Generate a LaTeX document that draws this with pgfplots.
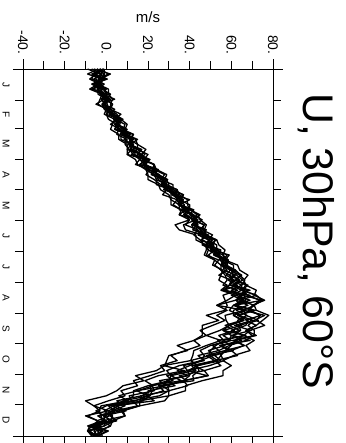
\documentclass[border=0pt]{standalone}
\usepackage{fontspec}
\setmainfont{Liberation Sans}
\usepackage{pgfplots}
\usepackage{pgfplotstable}
\pgfplotsset{compat=1.18}
\pgfplotstableread{
d a b c e f g h k l n o p q r
0 -2.5 -3 -4 -4.5 -4 -1 -9 -3 -1 -1.5 -7 -1 -6 -4
5 -6.5 1 -5 -1 -9 -1 -3 -5 -5 -7 -2 -6 2 -3
10 -1.5 -4 -8 -2.5 -2 -1 -3 -5 -1 0.5 -6 -7 -3 0
15 -3.5 -3 -3 -2 -7 -4 -4 -3 -5 -6.5 -2.5 -1 -4.5 -6
20 -2.5 -2 -6 -4.5 -3 1 -8 -4 0 -1 -7 -4 -1 -2.5
25 -2.5 2 -2 -1 -3 1 -2 -1 -2 0 0.5 -4 0.5 -1.5
30 -0.5 0 -3 1.5 -1 3 1 -2 2 -1 -2.5 0 -1 4
35 -0.5 3 -4 -1 -5 2 -2 -1 -1 0.5 -0.5 -2 3 -2
40 1.5 2 0 0.5 1 2 0 2 4 0.5 0 -1 1 2
45 1.5 7 -1 3 0 5 4 0 2 2.5 4 2 3 3.5
50 5.5 4 4 6.5 1 7 5 6 7 5 3.5 5 7 8
55 4.5 9 3 4 5 10 5 5 5 5.5 6 2 6.5 5.5
60 8.5 8 2 6.5 6 9 4 6 10 9.5 4 7 5 7.5
65 7.5 13 6 9 5 10 10 9 8 6.5 11.5 7 13 9
70 11.5 11 6 12.5 10 14 12 9 13 12 8.5 7 12 15
75 10.5 15 10 11 9 15 12 11 11 13 12.5 12 11 11.5
80 14.5 15 10 12.5 11 19 10 15 17 13 11.5 12 16 15.5
85 13.5 20 10 17 13 17 17 12 15 17 16.5 10 18.5 16
90 19.5 18 14 18.5 16 18 19 20 21 16 17.5 19 16 20.5
95 17.5 23 15 19 14 23 19 16 18 18.5 18.5 16 23 19
100 22.5 23 19 20.5 21 24 19 23 25 23.5 20 19 22 22.5
105 21.5 28 20 25 19 29 23 24 23 22 25.5 23 24.5 25
110 27.5 26 20 27.5 23 28 27 25 29 27.5 24 24 29 29.5
115 26.5 32 25 28 26 29 27 29 27 26.5 29 24 30 26
120 31.5 32 26 29.5 29 34 29 28 34 31.5 27.5 31 29 32.5
125 31.5 37 30 33 27 35 32 34 32 32 35 31 37 32.5
130 35.5 35 31 36.5 34 39 37 34 37 34.5 33.5 31 36 40
135 34.5 40 31 36 32 39 35 35 35 37.5 36 35 36 35
140 39.5 40 36 37.5 36 40 35 40 42 37 36.5 38 41 38.5
145 38.5 45 35 42 38 44 41 37 40 41 41 35 43.5 41.5
150 42.5 42 40 43.5 40 45 43 43 44 43.5 41 43 41 46
155 41.5 47 33 43 38 48 41 44 42 41 43.5 37 47 42.5
160 45.5 46 35 43.5 44 47 42 43 48 47.5 41.5 38 45 45.5
165 44.5 51 43 48 42 48 47 47 46 44 49 46 47.5 46.5
170 49.5 49 43 50.5 45 53 49 46 51 49 45.5 46 52 53
175 47.5 53 48 50 47 54 48 51 48 51.5 50.5 46 51.5 49
180 52.5 53 48 50.5 49 57 49 53 55 51 50 52 50 54
185 51.5 58 47 56 48 56 53 52 53 54 54.5 49 59 53.5
190 56.5 56 52 58.5 54 57 56 58 58 54.5 55 52 57 58.5
195 55.5 61 51 58 52 63 55 55 56 57.5 56 55 57.5 57
200 59.5 61 56 59.5 55 64 55 60 62 60.5 56.5 58 62 60.5
205 57.5 65 55 64 57 68 59 61 59 60.5 62 54 64.5 62.5
210 61.5 62 54 66.5 58 66 61 60 64 64 58.5 60 62 65.5
215 59.5 67 58 65 56 67 59 65 61 60.5 63 59 68 61
220 65 65 55 65 63 72 57 60 69 67.5 56.5 56 65 66.5
225 60 72 62 72 56 71 64 66 62 65.5 69 65 68 65.5
230 66 64 58 75 57 76 66 67 69 62.5 62.5 62 73.5 75
235 61 71 53 71 58 70 61 62 62 68 63.5 53 71 61.5
240 67 68 58 72 57 69 59 70 71.5 61 62.5 66.5 66 66
245 61 74 53 78 48 74 64 63 63.5 61 67.5 57 76 67
250 66 67 57 75 54 72 66 68 70.5 65 63 57.5 71 73
255 59 72 51 72 46 76 59 67 61.5 57 65 59 68 63.5
260 64 67 45 67 46 69 56 60 69.5 61.5 56 54.5 71 64.5
265 56 72 48 70 46 66 60 66 60 54 67 48 71 61
270 60 62 42 67 42 71 59 56 65 56.5 53.5 55 60.5 69
275 51 66 45 59 34 67 50 60 54.5 52.5 57 48 66.5 54.5
280 54 60 38 54 39 69 45 57 61 50 49 42 57 59
285 44 63 31 55 30 61 47 48 49.5 49.5 51.5 41.5 55 52
290 47 52 34 53 29 56 46 52 53.5 40.5 45 40.5 56.5 55
295 37 55 26 44 28 60 35 41 42 44 40 27.5 49.5 43.5
300 39 47 28 39 24 56 29 43 47 42 34 37.5 39 44.5
305 29 49 21 40 14 56 31 39 35 31 39 25 48.5 41.5
310 32 37 13 37 18 46 30 29 38.5 36 25.5 18.5 37 42
315 22 39 15 28 8 38 20 33 26.5 21 28.5 22.5 29.5 25
320 23 30 7 22 5 38 13 20 30.5 21.5 14.5 15 30 27.5
325 11 30 9 21 0 30 13 20 16.5 17 20.5 6 25.5 19.5
330 12 16 1 17 -10 28 10 14 18 5 8 10.5 12.5 23
335 1 16 -6 6 -6 16 0 3 4.5 9 3.5 -2.5 15 4
340 4 7 -3 1 1 8 -5 7 9.5 2.5 -1 -3.5 4 3.5
345 -4 9 -9 3 -10 9 -1 -4 -1.5 -0.5 1.5 -2.5 2 2
350 0 -2 -4 2 -4 3 -1 0 3 1.5 -4.5 -2 4 5
355 -7 2 -7 -4 -4 2 -8 -1 -6.5 -5 -2.5 -9 -1 -7
360 -2 -4 -9 -6 -5 -3 -9 -8 1 0 -9 -1.5 -9 -4
365 -5 -3 -7 -4 -6 -2 -6 -5 -4 -4 -5.5 -6 -3.5 -4
}\datatable
\begin{document}
\begin{tikzpicture}
\useasboundingbox (-23bp,-7bp) rectangle (323bp,436bp);
\begin{axis}[
  scale only axis,
  width=250bp, height=367bp,
  xmin=-40, xmax=80, ymin=0, ymax=365,
  y dir=reverse,
  axis line style={line width=0.8bp},
  tick style={line width=0.8bp, black},
  tick align=outside,
  major tick length=8bp, minor tick length=8bp,
  xtick={-40,-20,0,20,40,60,80},
  xticklabels={-40.,-20.,0.,20.,40.,60.,80.},
  minor x tick num=1,
  xticklabel pos=right,
  xticklabel style={yshift=3bp, rotate=-90, anchor=east, font=\fontsize{14}{14}\selectfont},
  ytick={0,31,59,90,120,151,181,212,243,273,304,334,365},
  yticklabels={},
  extra y ticks={15.5,45,74.5,105,135.5,166,196.5,227.5,258,288.5,319,349.5},
  extra y tick labels={J,F,M,A,M,J,J,A,S,O,N,D},
  extra y tick style={major tick length=0pt, yticklabel style={xshift=-17bp, rotate=-90, anchor=center, font=\fontsize{10}{10}\selectfont}},
  clip=false,
]
\pgfplotsinvokeforeach{a,b,c,e,f,g,h,k,l,n,o,p,q,r}{
  \addplot[black, line width=1.3bp, line join=round] table[x=#1, y=d]{\datatable};
}
\draw[line width=0.8bp] ([xshift=-10bp]axis description cs:0,1) -- ([xshift=10bp]axis description cs:1,1);
\draw[line width=0.8bp] ([xshift=-10bp]axis description cs:0,0) -- ([xshift=10bp]axis description cs:1,0);
\draw[line width=0.8bp] ([yshift=10bp]axis description cs:0,1) -- ([yshift=-10bp]axis description cs:0,0);
\draw[line width=0.8bp] ([yshift=10bp]axis description cs:1,1) -- ([yshift=-10bp]axis description cs:1,0);
\end{axis}
\node[font=\fontsize{15}{15}\selectfont] at (125bp,419bp) {m/s};
\node[rotate=-90, anchor=base, inner sep=0pt, font=\fontsize{43}{43}\selectfont] at (280bp,195bp) {U, 30hPa, 60°S};
\end{tikzpicture}
\end{document}
